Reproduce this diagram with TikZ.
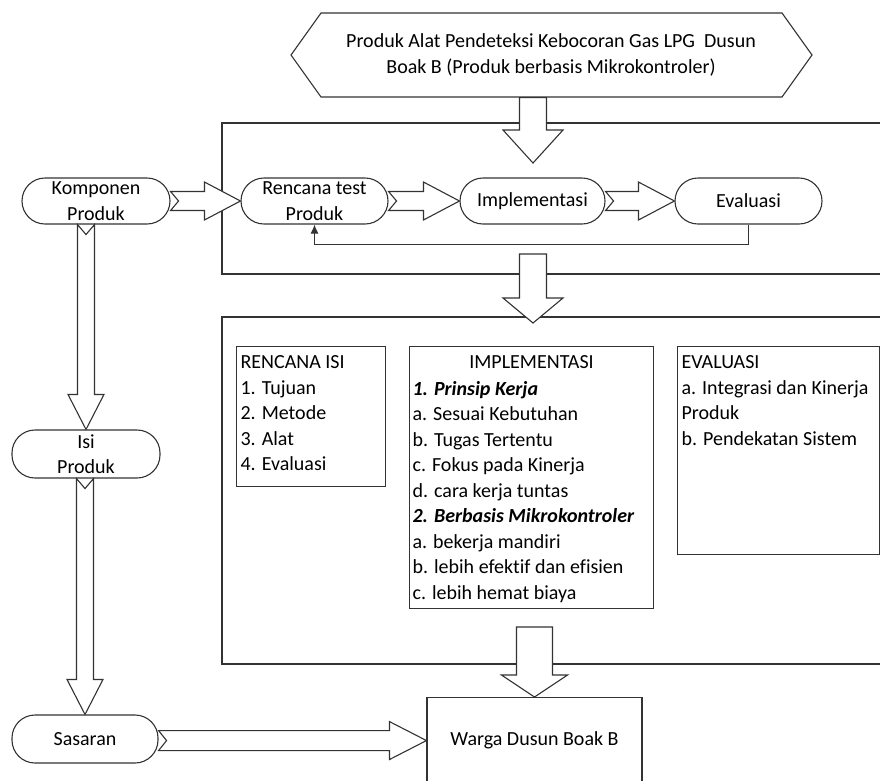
\documentclass[tikz,border=0pt]{standalone}
\usepackage{fontspec}
\setmainfont{Carlito}[Ligatures={NoCommon}]
\usetikzlibrary{calc,arrows.meta}
% horizontal block arrow: from, to, shaft half, head half, head length, notch
\newcommand\myharrow[6]{%
  \filldraw[barrow] let \p1=(#1), \p2=(#2) in
   (\x1,\y2+#3) -- (\x2-#5,\y2+#3) -- (\x2-#5,\y2+#4) -- (\x2,\y2) --
   (\x2-#5,\y2-#4) -- (\x2-#5,\y2-#3) -- (\x1,\y2-#3) -- (\x1+#6,\y2) -- cycle;}
% vertical (downward) block arrow
\newcommand\myvarrow[6]{%
  \filldraw[barrow] let \p1=(#1), \p2=(#2) in
   (\x2-#3,\y1) -- (\x2-#3,\y2+#5) -- (\x2-#4,\y2+#5) -- (\x2,\y2) --
   (\x2+#4,\y2+#5) -- (\x2+#3,\y2+#5) -- (\x2+#3,\y1) -- (\x2,\y1-#6) -- cycle;}
\begin{document}
\begin{tikzpicture}[x=1pt,y=-1pt,line width=1.1pt,
  every node/.style={font=\fontsize{20}{25.5}\selectfont, text=black},
  pill/.style={draw=black!80, fill=white, rounded corners=23pt, minimum height=46pt, align=center, inner sep=0pt},
  barrow/.style={draw=black!80, fill=white, line width=1.1pt, line join=miter},
  frame/.style={draw=black!80},
  listbox/.style={draw=black!80, anchor=north west, inner sep=0pt},
  listtext/.style={anchor=north west, align=left, inner sep=0pt},
  fb/.style={draw=black!80, -{Latex[length=9pt,width=8pt]}}]
\useasboundingbox (0,0) rectangle (880,780);
\fill[white] (0,0) rectangle (880,780);
% big frames
\draw[frame] (222,123) rectangle (895,274);
\draw[frame] (222,317) rectangle (895,664);
% hexagon
\draw[draw=black!80] (291,55) -- (321,13) -- (782,13) -- (812,55) -- (782,97) -- (321,97) -- cycle;
\node[minimum height=84pt, inner sep=0pt, align=center] (hex) at (551,55)
  {Produk Alat Pendeteksi Kebocoran Gas LPG\ \ Dusun\\Boak B (Produk berbasis Mikrokontroler)};
% row nodes
\node[pill, minimum width=148pt] (komp) at (96,201) {Komponen\\Produk};
\node[pill, minimum width=147pt] (renc) at (314.5,201) {Rencana test\\Produk};
\node[pill, minimum width=145pt] (impl) at (532.5,201) {Implementasi};
\node[pill, minimum width=147pt] (eval) at (748.5,201) {Evaluasi};
\node[pill, minimum width=148pt, minimum height=48pt] (isi) at (86,454) {Isi\\Produk};
\node[pill, minimum width=146pt, minimum height=48pt] (sas) at (85,739) {Sasaran};
\node[draw=black!80, fill=white, anchor=north, minimum width=215pt, minimum height=86pt] (warga) at (534.5,697) {Warga Dusun Boak B};
% free arrow ends
\coordinate (a1) at (533,163);
\coordinate (b0) at (533,254);
\coordinate (b1) at (533,323);
\coordinate (c0) at (533,627);
% block arrows
\myvarrow{hex.south}{a1}{13.5pt}{30pt}{33pt}{0pt}
\myvarrow{b0}{b1}{13.5pt}{30pt}{25pt}{0pt}
\myvarrow{c0}{warga.north}{18pt}{33pt}{22pt}{0pt}
\myharrow{komp.east}{renc.west}{9.5pt}{19pt}{36pt}{8pt}
\myharrow{renc.east}{impl.west}{9.5pt}{19pt}{36pt}{8pt}
\myharrow{impl.east}{eval.west}{9.5pt}{19pt}{36pt}{8pt}
\myharrow{sas.east}{warga.west}{10pt}{19pt}{37pt}{8pt}
\myvarrow{komp.south}{isi.north}{8.5pt}{18pt}{35pt}{10pt}
\myvarrow{isi.south}{sas.north}{8.5pt}{18pt}{35pt}{10pt}
% feedback
\draw[fb] (eval.south) -- ++(0,20) -| (renc.south);
% inner boxes
\node[listbox, minimum width=149pt, minimum height=140pt] (ri) at (236,346) {};
\node[listbox, minimum width=244pt, minimum height=262pt] (im) at (409,346) {};
\node[listbox, minimum width=202pt, minimum height=208pt] (ev) at (677,346) {};
\node[listtext] (ritext) at ($(ri.north west)+(4,9)$)
  {RENCANA ISI\\1. Tujuan\\2. Metode\\3. Alat\\4. Evaluasi};
\node[anchor=north, inner sep=0pt] (imtitle) at ($(im.north)+(0,9)$) {IMPLEMENTASI};
\node[listtext] (imtext) at ($(im.north west)+(3,34.5)$)
  {\textbf{\textit{1. Prinsip Kerja}}\\a. Sesuai Kebutuhan\\b. Tugas Tertentu\\c. Fokus pada Kinerja\\d. cara kerja tuntas\\\textbf{\textit{2. Berbasis Mikrokontroler}}\\a. bekerja mandiri\\b. lebih efektif dan efisien\\c. lebih hemat biaya};
\node[listtext] (evtext) at ($(ev.north west)+(4,9)$)
  {EVALUASI\\a. Integrasi dan Kinerja\\Produk\\b. Pendekatan Sistem};
\end{tikzpicture}
\end{document}
